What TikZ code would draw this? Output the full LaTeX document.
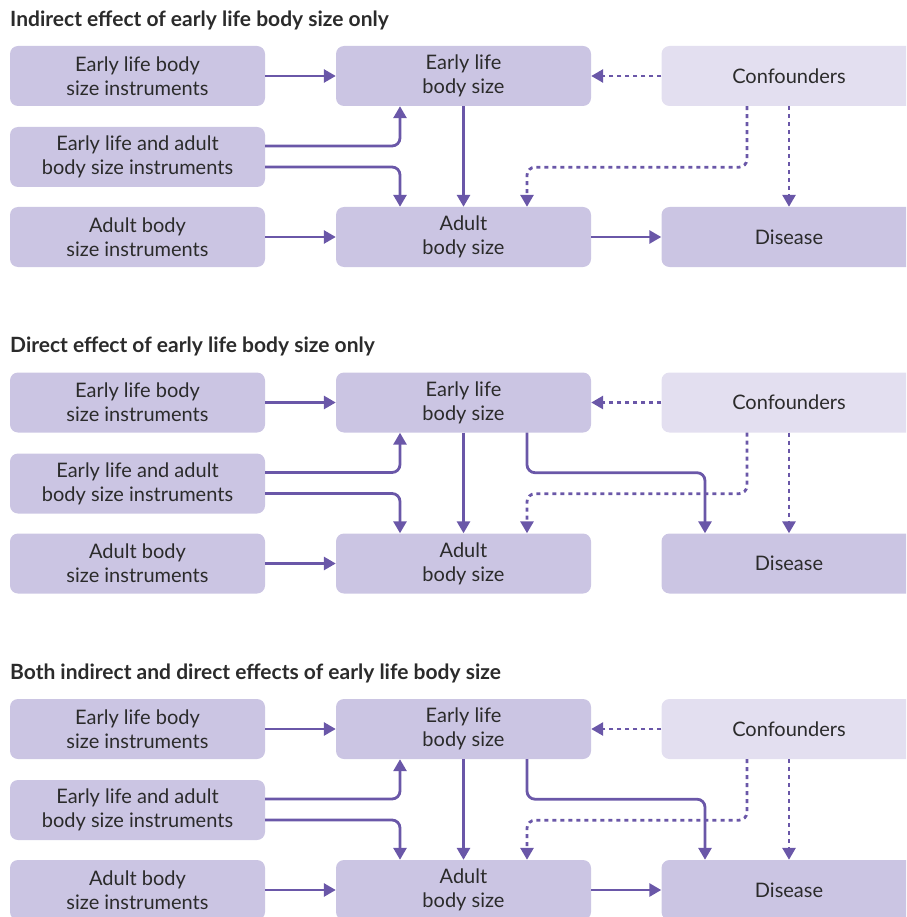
\documentclass[tikz,border=0pt]{standalone}
\usepackage{fontspec}
\setmainfont{Lato}
\usetikzlibrary{arrows.meta}
\definecolor{boxfill}{HTML}{CBC5E3}
\definecolor{conffill}{HTML}{E3DFF0}
\definecolor{arrowcol}{HTML}{6A57A8}
\definecolor{textcol}{HTML}{2B2B2B}
\begin{document}
\begin{tikzpicture}[x=1pt, y=-1pt, >={Triangle[length=12pt,width=13pt]},
  box/.style={fill=boxfill, rounded corners=8pt, minimum width=255pt, minimum height=60pt,
    align=center, inner sep=0pt, text=textcol, font=\fontsize{20}{24}\selectfont},
  lightbox/.style={box, fill=conffill},
  title/.style={anchor=west, inner sep=0pt, text=textcol, font=\bfseries\fontsize{21}{22}\selectfont},
  link/.style={->, draw=arrowcol, line width=2.8pt, rounded corners=8pt},
  dotlink/.style={link, dash pattern=on 4pt off 4pt}]
  \path[use as bounding box, clip] (0,0) rectangle (906,917);

  % indirect effect only
  \node[title] (t1) at (10,20) {Indirect effect of early life body size only};
  \node[box] (eli1) at (137.5,76) {Early life body\\size instruments};
  \node[box] (both1) at (137.5,157) {Early life and adult\\body size instruments};
  \node[box] (ai1) at (137.5,237) {Adult body\\size instruments};
  \node[box] (elb1) at (463.5,76) {Early life\\body size};
  \node[box] (ab1) at (463.5,237) {Adult\\body size};
  \node[lightbox] (conf1) at (789,76) {Confounders};
  \node[box] (dis1) at (789,237) {Disease};
  \draw[link] (eli1) -- (elb1);
  \draw[link] ([yshift=11pt]both1.east) -| ([xshift=-63.5pt]elb1.south);
  \draw[link] ([yshift=-10pt]both1.east) -| ([xshift=-63.5pt]ab1.north);
  \draw[link] (ai1) -- (ab1);
  \draw[link] (elb1) -- (ab1);
  \draw[link] (ab1) -- (dis1);
  \draw[dotlink] (conf1) -- (elb1);
  \draw[dotlink] ([xshift=-42pt]conf1.south) -- ++(0,61) -| ([xshift=63.5pt]ab1.north);
  \draw[dotlink] (conf1) -- (dis1);

  % direct effect only
  \begin{scope}[yshift=-326.5pt]
  \node[title] (t2) at (10,20) {Direct effect of early life body size only};
  \node[box] (eli2) at (137.5,76) {Early life body\\size instruments};
  \node[box] (both2) at (137.5,157) {Early life and adult\\body size instruments};
  \node[box] (ai2) at (137.5,237) {Adult body\\size instruments};
  \node[box] (elb2) at (463.5,76) {Early life\\body size};
  \node[box] (ab2) at (463.5,237) {Adult\\body size};
  \node[lightbox] (conf2) at (789,76) {Confounders};
  \node[box] (dis2) at (789,237) {Disease};
  \draw[link] (eli2) -- (elb2);
  \draw[link] ([yshift=11pt]both2.east) -| ([xshift=-63.5pt]elb2.south);
  \draw[link] ([yshift=-10pt]both2.east) -| ([xshift=-63.5pt]ab2.north);
  \draw[link] (ai2) -- (ab2);
  \draw[link] (elb2) -- (ab2);
  \draw[link] ([xshift=63.5pt]elb2.south) -- ++(0,40) -| ([xshift=-84pt]dis2.north);
  \draw[dotlink] (conf2) -- (elb2);
  \draw[dotlink] ([xshift=-42pt]conf2.south) -- ++(0,61) -| ([xshift=63.5pt]ab2.north);
  \draw[dotlink] (conf2) -- (dis2);
  \end{scope}

  % both
  \begin{scope}[yshift=-653pt]
  \node[title] (t3) at (10,20) {Both indirect and direct effects of early life body size};
  \node[box] (eli3) at (137.5,76) {Early life body\\size instruments};
  \node[box] (both3) at (137.5,157) {Early life and adult\\body size instruments};
  \node[box] (ai3) at (137.5,237) {Adult body\\size instruments};
  \node[box] (elb3) at (463.5,76) {Early life\\body size};
  \node[box] (ab3) at (463.5,237) {Adult\\body size};
  \node[lightbox] (conf3) at (789,76) {Confounders};
  \node[box] (dis3) at (789,237) {Disease};
  \draw[link] (eli3) -- (elb3);
  \draw[link] ([yshift=11pt]both3.east) -| ([xshift=-63.5pt]elb3.south);
  \draw[link] ([yshift=-10pt]both3.east) -| ([xshift=-63.5pt]ab3.north);
  \draw[link] (ai3) -- (ab3);
  \draw[link] (elb3) -- (ab3);
  \draw[link] (ab3) -- (dis3);
  \draw[link] ([xshift=63.5pt]elb3.south) -- ++(0,40) -| ([xshift=-84pt]dis3.north);
  \draw[dotlink] (conf3) -- (elb3);
  \draw[dotlink] ([xshift=-42pt]conf3.south) -- ++(0,61) -| ([xshift=63.5pt]ab3.north);
  \draw[dotlink] (conf3) -- (dis3);
  \end{scope}
\end{tikzpicture}
\end{document}
